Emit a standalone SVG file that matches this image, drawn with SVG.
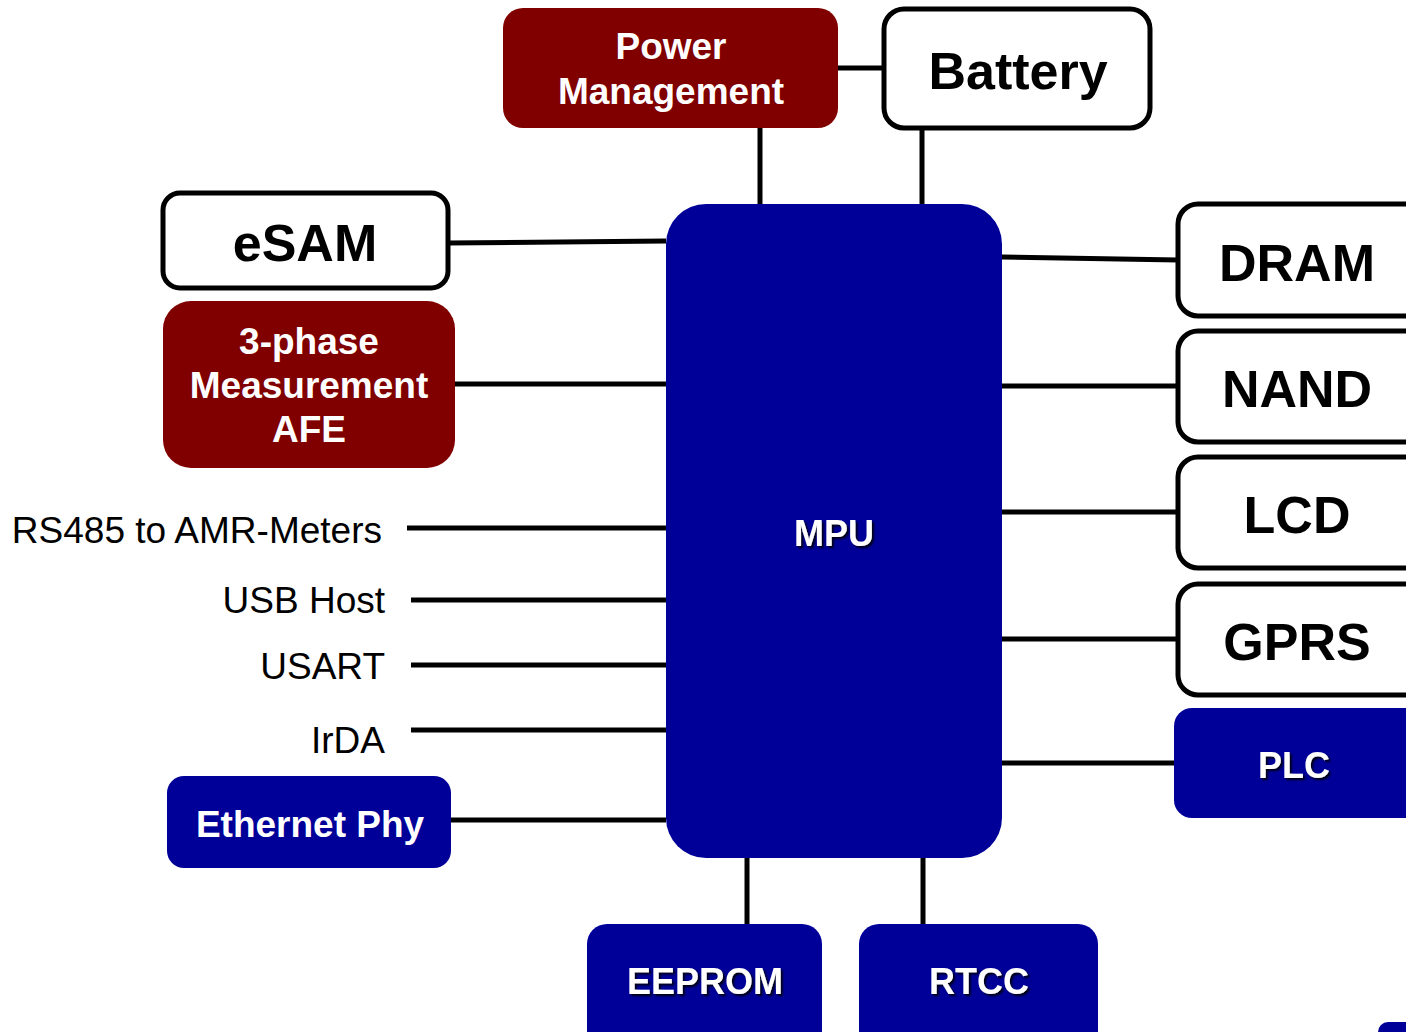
<svg xmlns="http://www.w3.org/2000/svg" width="1406" height="1032" viewBox="0 0 1406 1032">
<defs>
<filter id="sh" x="-10%" y="-20%" width="130%" height="150%">
<feDropShadow dx="2" dy="2" stdDeviation="0.8" flood-color="#000000" flood-opacity="0.9"/>
</filter>
</defs>
<style>
.red{fill:#800000}
.blue{fill:#000099}
.white{fill:#ffffff;stroke:#000000;stroke-width:5}
.tw{font-family:"Liberation Sans",Arial,sans-serif;font-weight:bold;fill:#ffffff;text-anchor:middle;font-size:36px}
.tb{font-family:"Liberation Sans",Arial,sans-serif;font-weight:bold;fill:#000000;text-anchor:middle;font-size:52px}
.lbl{font-family:"Liberation Sans",Arial,sans-serif;fill:#000000;text-anchor:end;font-size:37px}
.ln{stroke:#000000;stroke-width:5;fill:none}
</style>
<rect width="1406" height="1032" fill="#ffffff"/>
<g id="connectors">
<line class="ln" x1="838" y1="68" x2="884" y2="68"/>
<line class="ln" x1="760" y1="128" x2="760" y2="206"/>
<line class="ln" x1="922" y1="128" x2="922" y2="209"/>
<line class="ln" x1="448" y1="243" x2="666" y2="241"/>
<line class="ln" x1="455" y1="384" x2="666" y2="384"/>
<line class="ln" x1="407" y1="528" x2="666" y2="528"/>
<line class="ln" x1="411" y1="600" x2="666" y2="600"/>
<line class="ln" x1="411" y1="665" x2="666" y2="665"/>
<line class="ln" x1="411" y1="730" x2="666" y2="730"/>
<line class="ln" x1="451" y1="820" x2="666" y2="820"/>
<line class="ln" x1="1002" y1="257" x2="1178" y2="260"/>
<line class="ln" x1="1002" y1="386" x2="1178" y2="386"/>
<line class="ln" x1="1002" y1="512" x2="1178" y2="512"/>
<line class="ln" x1="1002" y1="639" x2="1178" y2="639"/>
<line class="ln" x1="1002" y1="763" x2="1174" y2="763"/>
<line class="ln" x1="747" y1="856" x2="747" y2="925"/>
<line class="ln" x1="923" y1="856" x2="923" y2="925"/>
</g>
<g id="power">
<rect class="red" x="503" y="8" width="335" height="120" rx="20"/>
<text class="tw" x="671" y="59" style="font-size:37px">Power</text>
<text class="tw" x="671" y="104" style="font-size:37px">Management</text>
</g>
<g id="battery">
<rect class="white" x="884" y="9" width="266" height="119" rx="20"/>
<text class="tb" x="1018" y="89">Battery</text>
</g>
<g id="mpu">
<rect class="blue" x="666" y="204" width="336" height="654" rx="40"/>
<text class="tw" x="834" y="546" filter="url(#sh)">MPU</text>
</g>
<g id="esam">
<rect class="white" x="163" y="193" width="285" height="95" rx="17"/>
<text class="tb" x="305" y="261">eSAM</text>
</g>
<g id="afe">
<rect class="red" x="163" y="301" width="292" height="167" rx="28"/>
<text class="tw" x="309" y="354" style="font-size:37px">3-phase</text>
<text class="tw" x="309" y="398" style="font-size:37px">Measurement</text>
<text class="tw" x="309" y="442" style="font-size:37px">AFE</text>
</g>
<g id="rs485"><text class="lbl" x="382" y="543">RS485 to AMR-Meters</text></g>
<g id="usb"><text class="lbl" x="385" y="613">USB Host</text></g>
<g id="usart"><text class="lbl" x="385" y="679">USART</text></g>
<g id="irda"><text class="lbl" x="385" y="753">IrDA</text></g>
<g id="ethernet">
<rect class="blue" x="167" y="776" width="284" height="92" rx="17"/>
<text class="tw" x="310" y="837" style="font-size:37px">Ethernet Phy</text>
</g>
<g id="dram">
<rect class="white" x="1178" y="204" width="250" height="112" rx="20"/>
<text class="tb" x="1297" y="281">DRAM</text>
</g>
<g id="nand">
<rect class="white" x="1178" y="331" width="250" height="111" rx="20"/>
<text class="tb" x="1297" y="407">NAND</text>
</g>
<g id="lcd">
<rect class="white" x="1178" y="457" width="250" height="111" rx="20"/>
<text class="tb" x="1297" y="533">LCD</text>
</g>
<g id="gprs">
<rect class="white" x="1178" y="584" width="250" height="111" rx="20"/>
<text class="tb" x="1297" y="660">GPRS</text>
</g>
<g id="plc">
<rect class="blue" x="1174" y="708" width="250" height="110" rx="18"/>
<text class="tw" x="1294" y="778" filter="url(#sh)">PLC</text>
</g>
<g id="eeprom">
<rect class="blue" x="587" y="924" width="235" height="130" rx="20"/>
<text class="tw" x="705" y="994" filter="url(#sh)">EEPROM</text>
</g>
<g id="rtcc">
<rect class="blue" x="859" y="924" width="239" height="130" rx="20"/>
<text class="tw" x="979" y="994" filter="url(#sh)">RTCC</text>
</g>
<g id="partial">
<rect class="blue" x="1378" y="1022" width="60" height="40" rx="10"/>
</g>
</svg>
